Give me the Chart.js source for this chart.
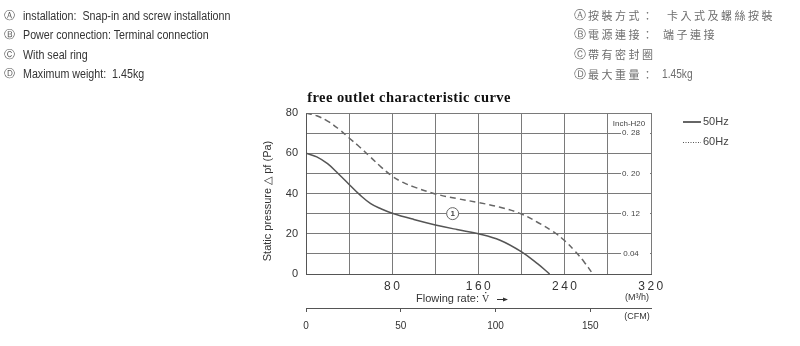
<!DOCTYPE html>
<html><head><meta charset="utf-8">
<script src="https://cdn.jsdelivr.net/npm/chart.js@4/dist/chart.umd.min.js"></script>
<style>
html,body{margin:0;padding:0;background:#fff;}
#wrap{position:relative;width:800px;height:346px;overflow:hidden;}
canvas{position:absolute;left:0;top:0;}
.hl{position:absolute;left:4px;white-space:nowrap;font-family:"Liberation Sans",Arial,sans-serif;font-size:12.5px;color:#333;line-height:14px;height:14px;}
.hl .c{position:absolute;left:0;top:0;font-family:"DejaVu Sans",sans-serif;font-size:11px;color:#555;}
.hl .t{position:absolute;left:19px;top:0;transform:scaleX(0.855);transform-origin:0 50%;}
.hr{position:absolute;left:574px;white-space:nowrap;font-family:"Noto Sans CJK TC","Noto Sans CJK SC",sans-serif;font-size:11px;color:#6e6e6e;line-height:14px;height:14px;letter-spacing:2.5px;}
.hr .c{position:absolute;left:0;top:0;font-family:"DejaVu Sans",sans-serif;font-size:12px;letter-spacing:0;}
.hr .a{position:absolute;left:14px;top:0;}
.hr .b{position:absolute;left:93px;top:0;}
.hr .n{font-family:"Liberation Sans",Arial,sans-serif;letter-spacing:0;font-size:12px;transform:scaleX(0.85);transform-origin:0 50%;}
</style>
</head><body>
<div id="wrap">
<canvas id="c" width="800" height="346"></canvas>
<div class="hl" style="top:9px"><span class="c">Ⓐ</span><span class="t">installation:&nbsp; Snap-in and screw installationn</span></div>
<div class="hl" style="top:28px"><span class="c">Ⓑ</span><span class="t">Power connection: Terminal connection</span></div>
<div class="hl" style="top:48px"><span class="c">Ⓒ</span><span class="t">With seal ring</span></div>
<div class="hl" style="top:67px"><span class="c">Ⓓ</span><span class="t">Maximum weight:&nbsp; 1.45kg</span></div>
<div class="hr" style="top:8px"><span class="c">Ⓐ</span><span class="a">按裝方式：</span><span class="b">卡入式及螺絲按裝</span></div>
<div class="hr" style="top:27px"><span class="c">Ⓑ</span><span class="a">電源連接：</span><span class="b" style="left:89px">端子連接</span></div>
<div class="hr" style="top:47px"><span class="c">Ⓒ</span><span class="a">帶有密封圈</span></div>
<div class="hr" style="top:67px"><span class="c">Ⓓ</span><span class="a">最大重量：</span><span class="b n" style="left:88px">1.45kg</span></div>
</div>
<script>
// ---- data (flow in m³/h, static pressure in Pa) ----
const flow50  = [0, 10, 20, 30, 40, 50, 60, 70, 80, 100, 120, 140, 160, 180, 200, 215, 226];
const press50 = [60, 58.2, 54.8, 49.8, 44.5, 39.3, 35, 32.3, 30.2, 27.1, 24.4, 22.1, 20, 16.8, 11, 5, 0];
const flow60  = [0, 10, 20, 30, 40, 50, 60, 70, 80, 90, 100, 120, 140, 160, 180, 200, 215, 230, 240, 250, 258, 266];
const press60 = [80, 78.6, 76, 72.2, 67.6, 63, 58, 53, 48.6, 45.5, 43.3, 39.8, 37.5, 35.5, 33.2, 29.8, 25.6, 20.8, 16.5, 11, 6, 0];

// ---- axes / tick labels ----
const xMax = 320, xStep = 40;
const xTickLabels = [80, 160, 240, 320];
const yMax = 80, yStep = 10;
const yTickLabels = [0, 20, 40, 60, 80];
const cfmMax = 182;
const cfmTicks = [0, 50, 100, 150];
const inchAt = [70, 50, 30, 10];
const inchLabels = ['0. 28', '0. 20', '0. 12', '0.04'];
const seriesNames = ['50Hz', '60Hz'];
const titleText = 'free outlet characteristic curve';
const yTitle = 'Static pressure \u25B3 pf (Pa)';
const xTitleA = 'Flowing rate: ';
const xTitleB = 'V';
const markPoint = {x: 136, y: 30, label: '1'};

const pts = (xs, ys) => xs.map((x, i) => ({x: x, y: ys[i]}));

const textPlugin = {
  id: 'texts',
  afterDraw(chart) {
    const ctx = chart.ctx, ca = chart.chartArea;
    const xs = chart.scales.x, ys = chart.scales.y;
    ctx.save();
    // title
    ctx.fillStyle = '#111';
    ctx.font = 'bold 14.5px "Liberation Serif", serif';
    ctx.letterSpacing = '0.45px';
    ctx.textAlign = 'center'; ctx.textBaseline = 'middle';
    ctx.fillText(titleText, 409, 98);
    // x tick labels (spaced digits)
    ctx.letterSpacing = '2.5px';
    ctx.font = '12px "Liberation Sans", Arial, sans-serif';
    ctx.fillStyle = '#333';
    xTickLabels.forEach(v => ctx.fillText(String(v), xs.getPixelForValue(v) + 1, 287));
    ctx.letterSpacing = '0px';
    // x title with V-dot and arrow
    ctx.font = '11px "Liberation Sans", Arial, sans-serif';
    ctx.fillStyle = '#333';
    ctx.textAlign = 'left';
    ctx.fillText(xTitleA, 416, 299);
    const vx = 416 + ctx.measureText(xTitleA).width;
    ctx.font = '10px "Liberation Serif", serif';
    ctx.fillText(xTitleB, vx, 299.5);
    const vw = ctx.measureText(xTitleB).width;
    ctx.fillRect(vx + vw / 2 - 0.5, 292, 1.2, 1.2);
    ctx.strokeStyle = '#333'; ctx.lineWidth = 1;
    ctx.beginPath(); ctx.moveTo(497, 299.5); ctx.lineTo(507, 299.5); ctx.stroke();
    ctx.beginPath(); ctx.moveTo(508, 299.5); ctx.lineTo(503, 297.5); ctx.lineTo(503, 301.5); ctx.closePath(); ctx.fill();
    // units
    ctx.font = '9px "Liberation Sans", Arial, sans-serif';
    ctx.textAlign = 'center';
    ctx.fillText('(M\u00B3/h)', 637, 298);
    ctx.fillText('(CFM)', 637, 317);
    // y title
    ctx.save();
    ctx.translate(268, 201);
    ctx.rotate(-Math.PI / 2);
    ctx.font = '11px "Liberation Sans", Arial, sans-serif';
    ctx.fillStyle = '#333';
    ctx.fillText(yTitle, 0, 0);
    ctx.restore();
    // inch-H2O labels inside the last column
    ctx.font = '8px "Liberation Sans", Arial, sans-serif';
    ctx.fillStyle = '#fff';
    inchAt.forEach(v => { const y = ys.getPixelForValue(v); ctx.fillRect(621, y - 4, ca.right - 622, 8); });
    ctx.fillStyle = '#444';
    ctx.fillText('Inch-H20', 629, 124);
    inchAt.forEach((v, i) => ctx.fillText(inchLabels[i], 631, ys.getPixelForValue(v)));
    // circled mark
    const mx = xs.getPixelForValue(markPoint.x), my = ys.getPixelForValue(markPoint.y);
    ctx.fillStyle = '#fff';
    ctx.beginPath(); ctx.arc(mx, my, 6, 0, Math.PI * 2); ctx.fill();
    ctx.strokeStyle = '#666'; ctx.lineWidth = 1; ctx.stroke();
    ctx.fillStyle = '#444';
    ctx.font = 'bold 8px "Liberation Sans", Arial, sans-serif';
    ctx.fillText(markPoint.label, mx, my + 0.5);
    // legend
    ctx.strokeStyle = '#333'; ctx.lineWidth = 1.5;
    ctx.beginPath(); ctx.moveTo(683, 122); ctx.lineTo(701, 122); ctx.stroke();
    ctx.strokeStyle = '#555'; ctx.lineWidth = 1; ctx.setLineDash([1, 1.5]);
    ctx.beginPath(); ctx.moveTo(683, 142.5); ctx.lineTo(701, 142.5); ctx.stroke();
    ctx.setLineDash([]);
    ctx.font = '11px "Liberation Sans", Arial, sans-serif';
    ctx.fillStyle = '#444'; ctx.textAlign = 'left';
    ctx.fillText(seriesNames[0], 703, 122);
    ctx.fillText(seriesNames[1], 703, 142);
    ctx.restore();
  }
};

new Chart(document.getElementById('c'), {
  type: 'line',
  data: {
    datasets: [
      {label: seriesNames[0], data: pts(flow50, press50), borderColor: '#555', borderWidth: 1.5,
       pointRadius: 0, tension: 0.4, fill: false},
      {label: seriesNames[1], data: pts(flow60, press60), borderColor: '#666', borderWidth: 1.5,
       borderDash: [6, 4], pointRadius: 0, tension: 0.4, fill: false}
    ]
  },
  options: {
    responsive: false, animation: false, devicePixelRatio: 1,
    layout: {padding: {left: 255, right: 149, top: 113, bottom: 8}},
    plugins: {legend: {display: false}, tooltip: {enabled: false}},
    scales: {
      x: {
        type: 'linear', position: 'bottom', min: 0, max: xMax, weight: 0,
        ticks: {stepSize: xStep, display: false},
        grid: {color: '#7a7a7a', lineWidth: 1, drawTicks: false},
        border: {color: '#555', width: 1},
        afterFit: s => { s.height = 34; }
      },
      x2: {
        type: 'linear', position: 'bottom', min: 0, max: cfmMax, weight: 1,
        afterBuildTicks: s => { s.ticks = cfmTicks.map(v => ({value: v})); },
        ticks: {color: '#333', font: {family: '"Liberation Sans", Arial, sans-serif', size: 10}, padding: 8,
                autoSkip: false, maxRotation: 0, callback: v => String(v)},
        grid: {drawOnChartArea: false, drawTicks: true, tickLength: 4, color: '#555'},
        border: {color: '#555', width: 1},
        afterFit: s => { s.height = 30; }
      },
      y: {
        type: 'linear', position: 'left', min: 0, max: yMax,
        ticks: {stepSize: yStep, color: '#333', padding: 8,
                font: {family: '"Liberation Sans", Arial, sans-serif', size: 11},
                callback: v => yTickLabels.includes(v) ? String(v) : ''},
        grid: {color: '#7a7a7a', lineWidth: 1, drawTicks: false},
        border: {color: '#555', width: 1},
        afterFit: s => { s.width = 51; }
      }
    }
  },
  plugins: [textPlugin]
});
</script>
</body></html>
